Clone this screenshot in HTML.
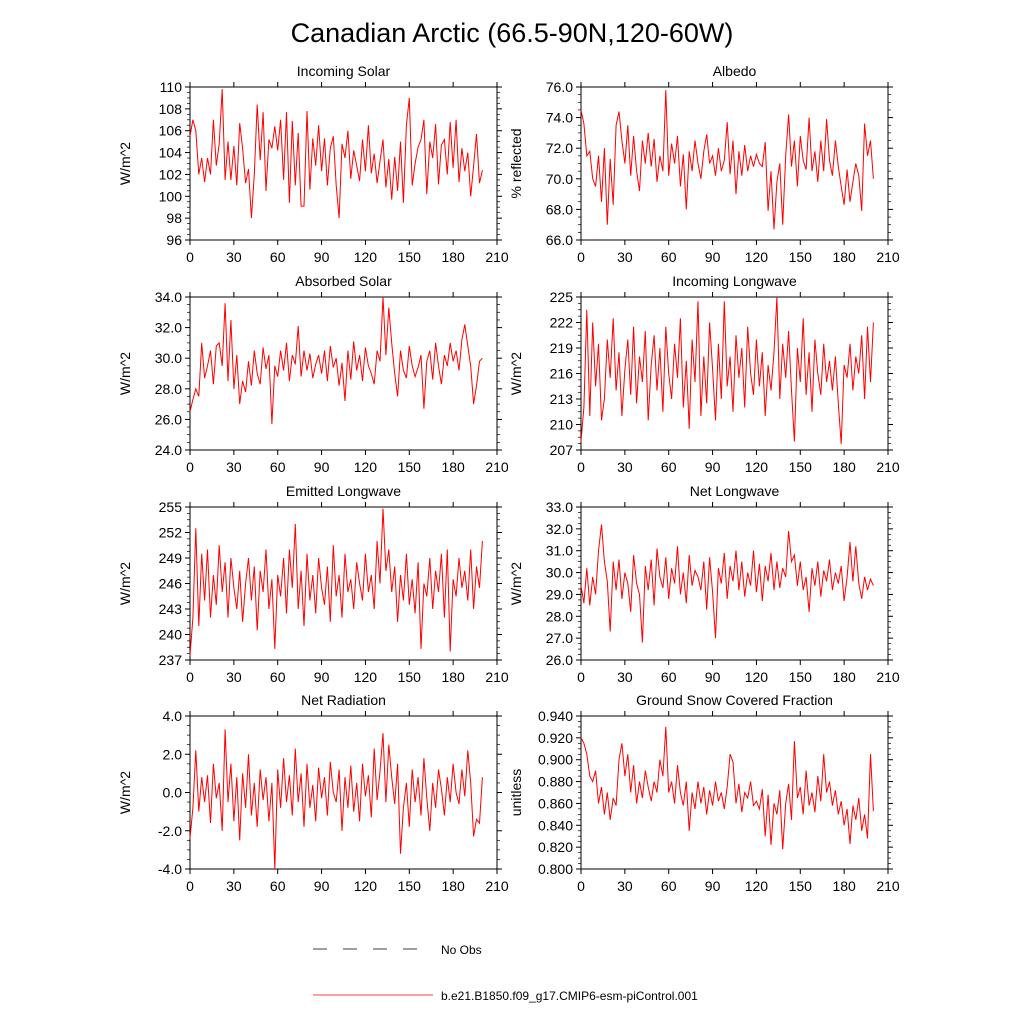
<!DOCTYPE html>
<html><head><meta charset="utf-8"><style>
body{margin:0;background:#fff}
svg text{font-family:"Liberation Sans",sans-serif;fill:#000}
</style></head><body>
<svg id="c" width="1024" height="1024" viewBox="0 0 1024 1024" xmlns="http://www.w3.org/2000/svg">
<text x="512" y="42" font-size="27" text-anchor="middle">Canadian Arctic (66.5-90N,120-60W)</text>
<g>
<line x1="313" y1="949" x2="433" y2="949" stroke="#000" stroke-width="0.8" stroke-dasharray="14,16"/>
<text x="441" y="954" font-size="12">No Obs</text>
<line x1="313" y1="995" x2="433" y2="995" stroke="#f00" stroke-width="0.8"/>
<text x="441" y="1000" font-size="12">b.e21.B1850.f09_g17.CMIP6-esm-piControl.001</text>
</g>
</svg>
<script>
const years=[];for(let i=0;i<=100;i++)years.push(i*2);
const xTicks=[0,30,60,90,120,150,180,210];
const incomingSolar=[105.5,107,106,102,103.5,101.3,103.5,102,107,102.8,104.8,109.8,101.5,105,101.5,104.6,101,106.7,104.4,101.2,102.5,98,102,108.4,103.3,107.7,100.5,105.2,104.4,106.4,104.2,107,101.5,107.7,99.4,106.9,101,105.8,99.1,99.1,107.8,100.6,105.3,102.8,106.5,102.3,105.3,101,104.4,105.5,101,98,104.8,103.5,106,101.6,104.2,102.8,101.4,105.2,102.3,106.5,102.1,103.9,101.2,103.2,105.2,100.8,103.4,99.7,103.6,100.5,105,99.4,106.5,109,101,103,104.5,105.2,107,100.2,105,103.5,106.6,101.1,104.7,105.2,102,106.8,102.6,107,101.3,104.4,102.3,104,100,102.8,105.7,101.2,102.4];
const albedo=[74.5,73.6,71.5,71.8,70,69.5,71.5,68.5,72,67,71.3,68.3,73.5,74.4,72.5,71,73.5,70.2,72.8,70.5,69.2,72.5,71,73,70.8,72.6,69.8,71.5,70.5,75.8,70.2,72.3,71,72.8,69.5,71.6,68,71.8,70.5,72.5,71,70,71.8,72.9,71,71.5,70.2,72,70.5,71.2,73.7,70.3,72.5,69,71.8,70.2,72.2,70.5,71.5,70.8,71.6,71,70.8,72.4,67.9,70.5,66.7,69.8,71,67,71.5,74.2,70.8,72.5,69.5,72.8,71.2,70.6,74,70.5,71.8,69.8,72.5,70.5,73.9,71.2,70.2,72.5,70.8,69.5,68.3,70.6,68.5,69.8,71,70.2,67.9,73.6,71.5,72.5,70];
const absorbedSolar=[26.5,27.3,28,27.5,31,28.7,29.5,30.5,28.3,30.8,31,29.5,33.6,28.5,32.5,28,30.2,27,28.5,27.8,29.8,28.2,30.5,29,28.3,30.7,29.3,30.2,25.7,29.5,28.8,30.5,29.2,31,28.5,30.2,29.6,32.1,28.8,30.5,29.2,30.3,28.7,29.6,30.2,29,30.5,28.5,30.8,29.4,30,28.2,29.7,27.2,30.5,28.6,31.1,29.2,30.2,28.5,30.7,29.5,29,28.3,30.5,29.8,34,30.2,33.3,31,29,27.5,30.5,29.2,28.7,30.8,29.5,28.8,29.4,30.2,26.7,29.8,30.5,28.6,31,29.5,28.3,30.2,29.5,31,29.8,30.5,29.2,31.2,32.2,30.8,29.5,27,28.2,29.8,30];
const incomingLW=[208,212,223.5,211,222,214.5,219.5,210.5,213,220,215.5,222.5,214,218.5,211,216.5,220,213.5,221.5,212.5,218,215,221,210.5,217,220.5,214,219,211.5,221.5,216,213,219.5,215.5,222.5,212,217.5,209.5,220,215,224.5,211,218,212.5,222,216.5,210.5,219.5,213,224.5,214.5,218,211.5,220.5,215.5,219,212,221.5,216,213.5,220,214.5,218.5,211,217,214,218.5,225,213,219.5,215.5,221,214,208,219,215,222.5,213.5,218.5,211.5,220,216,213.5,219.5,215,217.5,214,218,212.5,207.7,217,215.5,219.5,214,218,216,220.5,213,221.5,215,222];
const emittedLW=[237.5,242,252.5,241,249.5,244,250,242,247,243.5,250.5,245,248.5,242,249,245.5,243,247.5,241.5,246,249,244,248,240.5,247.5,245,250,243,246.5,238.3,247,244.5,249,242.5,250,245.5,253,243,247.5,241,249.5,244,247,242.5,249,245.5,243.5,248,241.5,250.5,244.5,247,242,249.5,245,246.5,243,248.5,246,244,249.5,245,247,243,251,246,254.8,247.5,250,245,248,241.5,247,244,249.5,243.5,246.5,242.5,248.5,238.3,246,244.5,249,243,247.5,245,249.5,242,250,238,246.5,244.5,249,245.5,247.5,244,250,243,248,245.5,251];
const netLW=[29.4,28.6,30.2,28.5,29.8,29,31,32.2,30.5,29.6,27.3,30.5,29.2,30.6,28.8,30,29.5,28.2,30.8,29.5,29,26.8,30.3,29.2,30.6,28.5,31.1,29.8,29.3,30.7,28.8,30.2,29.5,31.2,29,30,28.6,30.8,29.4,30.1,29.8,29.2,30.5,28.3,30.7,29.1,27,30.2,29.5,30.9,28.8,30.3,29.6,31,29.2,30.5,28.9,30,29.4,31,29.1,30.4,28.7,30.3,29.6,30.9,29.2,30.5,29.3,30.2,29.8,31.9,30.5,30.8,29.4,30.5,29.2,29.8,28.2,30.2,29.4,30.5,28.9,30.1,29.6,30.6,29.2,30,29.5,30.3,28.7,29.8,31.4,29.6,31.2,29.5,28.8,29.8,29.2,29.7,29.4];
const netRad=[-2.4,-0.8,2.2,-1,0.8,-0.5,0.9,-1.6,1.5,-0.3,0.5,-2,3.3,-0.5,1.5,-1.5,0.8,-2.5,1,-0.8,2,-1.2,0.5,-1.8,1.2,-0.4,0.8,-1.5,0.5,-4,1.2,-0.8,1.8,-0.5,0.9,-1.2,2.3,-0.5,1,-1.8,1.5,-0.8,0.4,-1.5,1.3,-0.3,0.8,-1.2,1.6,0,-0.5,1.2,-2,0.8,-0.8,1.4,-1,0.5,-1.5,1.5,-0.2,0.9,-1.3,2.3,-0.4,1.1,3.1,-0.5,2.5,0.8,-0.6,1.5,-3.2,-0.8,0.5,-1.8,1.2,-0.5,0.8,-1.2,1.8,-0.3,-2,0.5,-0.8,1.2,0.2,-1.2,0.8,-0.5,1.5,0,-0.6,1.2,-0.2,2.2,0.5,-2.3,-1.4,-1.6,0.8];
const snowFrac=[0.920,0.915,0.905,0.885,0.880,0.890,0.860,0.875,0.850,0.870,0.845,0.865,0.858,0.900,0.915,0.885,0.905,0.870,0.895,0.860,0.880,0.865,0.890,0.875,0.862,0.880,0.870,0.900,0.885,0.930,0.870,0.880,0.860,0.895,0.870,0.858,0.880,0.835,0.870,0.855,0.880,0.860,0.875,0.850,0.872,0.858,0.880,0.862,0.870,0.855,0.875,0.905,0.898,0.860,0.878,0.852,0.870,0.865,0.880,0.858,0.862,0.855,0.873,0.830,0.868,0.822,0.860,0.850,0.872,0.818,0.860,0.878,0.845,0.917,0.865,0.875,0.850,0.890,0.858,0.870,0.852,0.885,0.862,0.905,0.870,0.880,0.858,0.872,0.850,0.862,0.840,0.855,0.823,0.858,0.845,0.865,0.835,0.850,0.828,0.905,0.853];

const panels=[
 {name:'incoming-solar',title:'Incoming Solar',yl:'W/m^2',data:incomingSolar,min:96,max:110,step:2,dec:0,col:0,row:0},
 {name:'albedo',title:'Albedo',yl:'% reflected',data:albedo,min:66,max:76,step:2,dec:1,col:1,row:0},
 {name:'absorbed-solar',title:'Absorbed Solar',yl:'W/m^2',data:absorbedSolar,min:24,max:34,step:2,dec:1,col:0,row:1},
 {name:'incoming-longwave',title:'Incoming Longwave',yl:'W/m^2',data:incomingLW,min:207,max:225,step:3,dec:0,col:1,row:1},
 {name:'emitted-longwave',title:'Emitted Longwave',yl:'W/m^2',data:emittedLW,min:237,max:255,step:3,dec:0,col:0,row:2},
 {name:'net-longwave',title:'Net Longwave',yl:'W/m^2',data:netLW,min:26,max:33,step:1,dec:1,col:1,row:2},
 {name:'net-radiation',title:'Net Radiation',yl:'W/m^2',data:netRad,min:-4,max:4,step:2,dec:1,col:0,row:3},
 {name:'snow-fraction',title:'Ground Snow Covered Fraction',yl:'unitless',data:snowFrac,min:0.8,max:0.94,step:0.02,dec:3,col:1,row:3}
];
const NS='http://www.w3.org/2000/svg';
const svg=document.getElementById('c');
function mk(tag,attrs,parent){const e=document.createElementNS(NS,tag);for(const k in attrs)e.setAttribute(k,attrs[k]);parent.appendChild(e);return e;}
const lefts=[190,581],tops=[87,297,507,716],W=307,H=153;
panels.forEach(p=>{
 const L=lefts[p.col],T=tops[p.row];
 const g=mk('g',{},svg);
 
 
 const xs=v=>L+v/210*W, ys=v=>T+H-(v-p.min)/(p.max-p.min)*H;
 const box=mk('rect',{x:L,y:T,width:W,height:H,fill:'none',stroke:'#000','stroke-width':1},g);
 
 
 const t=mk('text',{x:L+W/2,y:T-11,'font-size':14,'text-anchor':'middle'},g);t.textContent=p.title;
 
 
 const yl=mk('text',{x:0,y:0,'font-size':14,'text-anchor':'middle',transform:`translate(${L-60},${T+H/2}) rotate(-90)`},g);yl.textContent=p.yl;
 
 
 xTicks.forEach(v=>{
  const x=xs(v);
  mk('line',{x1:x,y1:T+H,x2:x,y2:T+H+5,stroke:'#000'},g);
  mk('line',{x1:x,y1:T,x2:x,y2:T-5,stroke:'#000'},g);
  const lt=mk('text',{x:x,y:T+H+22,'font-size':14,'text-anchor':'middle'},g);lt.textContent=v;
  
  
 });
 const n=Math.round((p.max-p.min)/p.step);
 for(let i=0;i<=n;i++){
  const v=p.min+i*p.step,y=ys(v);
  mk('line',{x1:L,y1:y,x2:L-5,y2:y,stroke:'#000'},g);
  mk('line',{x1:L+W,y1:y,x2:L+W+5,y2:y,stroke:'#000'},g);
  if(i<n)for(let k=1;k<4;k++){const ym=ys(v+p.step*k/4);
   mk('line',{x1:L,y1:ym,x2:L-3,y2:ym,stroke:'#000','stroke-width':0.7},g);
   mk('line',{x1:L+W,y1:ym,x2:L+W+3,y2:ym,stroke:'#000','stroke-width':0.7},g);}
  const lt=mk('text',{x:L-8,y:y+5,'font-size':14,'text-anchor':'end'},g);lt.textContent=v.toFixed(p.dec);
  
  
 }
 const pts=p.data.map((v,i)=>xs(years[i]).toFixed(1)+','+ys(v).toFixed(1)).join(' ');
 const pl=mk('polyline',{points:pts,fill:'none',stroke:'#f00','stroke-width':1},g);
 
 
});
</script>
</body></html>
